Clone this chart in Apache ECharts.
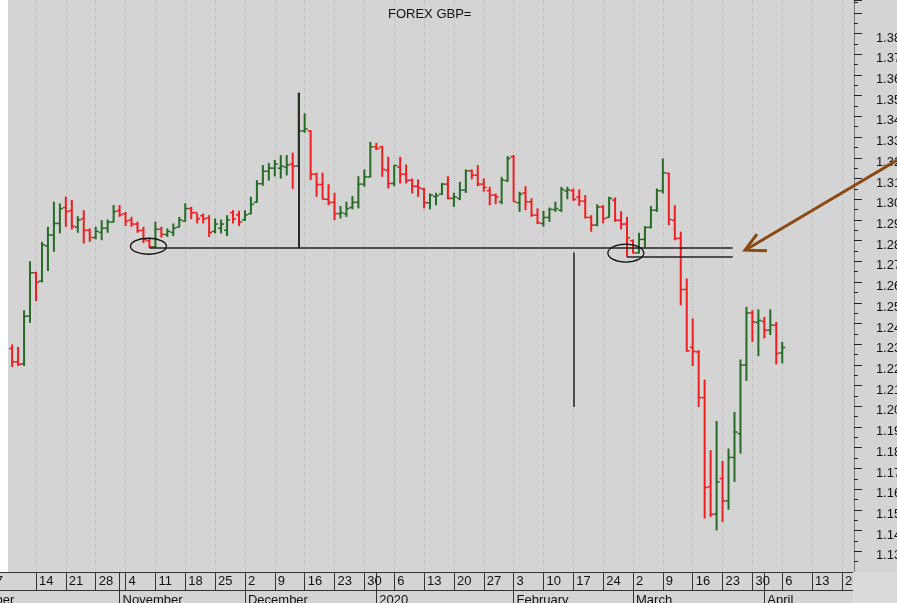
<!DOCTYPE html>
<html><head><meta charset="utf-8">
<script src="https://cdn.jsdelivr.net/npm/echarts@6/dist/echarts.min.js"></script>
<style>html,body{margin:0;padding:0;background:#d4d4d4}#c{width:897px;height:603px}</style>
</head><body><div id="c"></div>
<script>
// ---- categories: trading days (Mon-Fri) from 2019-10-07 to 2020-04-22 ----
const firstDay = '2019-10-07';
const dayCount = 143;
const days = [];
(function(){ let d = new Date(firstDay + 'T00:00:00Z');
  while (days.length < dayCount) { const w = d.getUTCDay(); if (w > 0 && w < 6) days.push(d.toISOString().slice(0,10)); d.setUTCDate(d.getUTCDate() + 1); } })();
const monthNames = ['2020','February','March','April','May','June','July','August','September','October','November','December'];
const title = 'FOREX GBP=';
// ---- daily OHLC, first value = 2019-10-08 (index 1) ----
const opens = [1.2279,1.2215,1.2205,1.2435,1.2645,1.2605,1.2775,1.2827,1.2883,1.2960,1.2945,1.2865,1.2905,1.2850,1.2815,1.2840,1.2860,1.2890,1.2945,1.2930,1.2900,1.2880,1.2850,1.2800,1.2770,1.2855,1.2830,1.2840,1.2865,1.2895,1.2955,1.2935,1.2920,1.2910,1.2845,1.2860,1.2850,1.2935,1.2925,1.2900,1.2930,1.2985,1.3075,1.3135,1.3150,1.3150,1.3155,1.3170,1.3160,1.3330,1.3330,1.3121,1.3071,1.3000,1.2985,1.2930,1.2930,1.2960,1.2985,1.3073,1.3108,1.3253,1.3253,1.3140,1.3076,1.3155,1.3121,1.3092,1.3063,1.3050,1.2983,1.3013,1.3025,1.3073,1.3004,1.3004,1.3044,1.3137,1.3116,1.3073,1.3041,1.3020,1.2988,1.3090,1.3206,1.2983,1.3031,1.2988,1.2923,1.2883,1.2912,1.2950,1.2947,1.3040,1.3041,1.3010,1.2991,1.2912,1.2875,1.2963,1.2912,1.2996,1.2899,1.2880,1.2800,1.2741,1.2806,1.2864,1.2947,1.3041,1.3125,1.2899,1.2811,1.2564,1.2285,1.2263,1.2042,1.1612,1.1479,1.1651,1.1543,1.1753,1.1868,1.2199,1.2451,1.2405,1.2410,1.2368,1.2392,1.2258];
const highs = [1.2299,1.2287,1.2464,1.2701,1.2650,1.2794,1.2867,1.2988,1.2980,1.3012,1.2996,1.2918,1.2947,1.2859,1.2867,1.2899,1.2902,1.2972,1.2972,1.2939,1.2915,1.2891,1.2867,1.2814,1.2891,1.2867,1.2859,1.2883,1.2915,1.2980,1.2963,1.2931,1.2931,1.2923,1.2907,1.2902,1.2923,1.2947,1.2944,1.2947,1.3012,1.3092,1.3165,1.3175,1.3190,1.3213,1.3213,1.3225,1.3514,1.3415,1.3334,1.3128,1.3128,1.3073,1.3031,1.2967,1.2988,1.3015,1.3111,1.3144,1.3277,1.3272,1.3258,1.3205,1.3165,1.3205,1.3168,1.3100,1.3096,1.3055,1.3028,1.3031,1.3079,1.3111,1.3031,1.3084,1.3144,1.3144,1.3165,1.3100,1.3060,1.3028,1.3108,1.3208,1.3213,1.3036,1.3063,1.3004,1.2956,1.2944,1.2960,1.2988,1.3060,1.3060,1.3052,1.3047,1.3020,1.2923,1.2976,1.2971,1.3012,1.3009,1.2942,1.2915,1.2806,1.2838,1.2870,1.2967,1.3052,1.3197,1.3128,1.2971,1.2843,1.2617,1.2424,1.2271,1.2129,1.1788,1.1929,1.1736,1.1796,1.1973,1.2226,1.2480,1.2464,1.2468,1.2432,1.2468,1.2408,1.2311];
const lows = [1.2190,1.2195,1.2195,1.2403,1.2509,1.2598,1.2653,1.2746,1.2835,1.2867,1.2854,1.2838,1.2786,1.2794,1.2806,1.2802,1.2838,1.2888,1.2915,1.2871,1.2867,1.2838,1.2789,1.2765,1.2765,1.2815,1.2818,1.2822,1.2864,1.2891,1.2904,1.2883,1.2883,1.2818,1.2835,1.2835,1.2822,1.2883,1.2871,1.2895,1.2927,1.2983,1.3065,1.3090,1.3110,1.3100,1.3115,1.3050,1.3155,1.3321,1.3092,1.3012,1.2999,1.2971,1.2899,1.2907,1.2915,1.2951,1.2956,1.3060,1.3105,1.3237,1.3108,1.3052,1.3063,1.3076,1.3076,1.3028,1.3012,1.2956,1.2951,1.2971,1.3020,1.2999,1.2963,1.2996,1.3031,1.3096,1.3063,1.3036,1.2971,1.2976,1.2976,1.3084,1.2988,1.2939,1.2947,1.2915,1.2880,1.2867,1.2891,1.2939,1.2939,1.3000,1.2992,1.2967,1.2907,1.2843,1.2870,1.2883,1.2912,1.2891,1.2854,1.2722,1.2738,1.2738,1.2767,1.2859,1.2939,1.3028,1.2875,1.2802,1.2488,1.2263,1.2194,1.1997,1.1458,1.1466,1.1401,1.1442,1.1501,1.1635,1.1772,1.2123,1.2311,1.2242,1.2328,1.2344,1.2203,1.2207];
const closes = [1.2215,1.2203,1.2435,1.2645,1.2600,1.2780,1.2827,1.2883,1.2955,1.2940,1.2870,1.2900,1.2850,1.2815,1.2845,1.2860,1.2890,1.2940,1.2925,1.2895,1.2880,1.2848,1.2805,1.2770,1.2855,1.2830,1.2845,1.2860,1.2900,1.2955,1.2935,1.2905,1.2905,1.2840,1.2880,1.2880,1.2900,1.2905,1.2890,1.2925,1.2975,1.3075,1.3135,1.3150,1.3170,1.3160,1.3165,1.3160,1.3330,1.3340,1.3121,1.3071,1.3000,1.2985,1.2931,1.2935,1.2955,1.2985,1.3073,1.3108,1.3253,1.3245,1.3144,1.3076,1.3163,1.3121,1.3092,1.3063,1.3055,1.2983,1.3020,1.3017,1.3073,1.3004,1.3011,1.3044,1.3137,1.3116,1.3073,1.3057,1.3020,1.3011,1.3092,1.3197,1.2988,1.3025,1.2988,1.2923,1.2886,1.2912,1.2951,1.2955,1.3047,1.3045,1.2999,1.2991,1.2912,1.2875,1.2963,1.2907,1.3004,1.2899,1.2880,1.2814,1.2741,1.2806,1.2864,1.2947,1.3041,1.3128,1.2902,1.2811,1.2564,1.2268,1.2265,1.2042,1.1608,1.1479,1.1635,1.1543,1.1753,1.1876,1.2199,1.2451,1.2408,1.2415,1.2368,1.2392,1.2255,1.2284];
const firstBarIndex = 1;
// ---- annotation values (data coordinates) ----
const supportLevel = 1.2765, lowerLevel = 1.2722;

const GREEN = '#256b25', RED = '#f01e1e';
const bars = opens.map((o, k) => [k + firstBarIndex, o, highs[k], lows[k], closes[k]]);
const isMonday = i => new Date(days[i] + 'T00:00:00Z').getUTCDay() === 1;
const isMonthStart = i => i > 0 && days[i].slice(5,7) !== days[i-1].slice(5,7);
const FONT = '"Liberation Sans", Arial, sans-serif';

const chart = echarts.init(document.getElementById('c'), null, {renderer:'canvas'});
const gridLeft = 6.15, pxPerDay = 5.97;
const gridRight = 897 - gridLeft - (dayCount - 1) * pxPerDay;

chart.setOption({
  animation: false,
  backgroundColor: '#d4d4d4',
  title: { text: title, left: 388, top: 8, padding: 0,
    textStyle: { fontSize: 13, fontWeight: 'normal', color: '#111', fontFamily: FONT } },
  grid: { left: gridLeft, right: gridRight, top: 0, bottom: 31, show: true, backgroundColor: '#d4d4d4', borderWidth: 0,
    containLabel: false, outerBoundsMode: 'none' },
  xAxis: [
    { type: 'category', data: days, boundaryGap: false, position: 'bottom',
      axisLine: { show: true, onZero: false, lineStyle: { color: '#333', width: 1 } },
      axisTick: { show: true, interval: (i) => i > 0 && isMonday(i), length: 18, lineStyle: { color: '#333' } },
      axisLabel: { interval: (i) => i > 0 && isMonday(i),
        formatter: (v) => String(+v.slice(8)), align: 'left', padding: [0,0,0,3], margin: 3,
        fontSize: 13, color: '#111', fontFamily: FONT },
      splitLine: { show: true, interval: (i) => isMonday(i), lineStyle: { type: 'dotted', color: '#bcbcbc', width: 1 } } },
    { type: 'category', data: days, boundaryGap: false, position: 'bottom',
      axisLine: { show: false, onZero: false },
      axisTick: { show: true, interval: (i) => isMonthStart(i), length: 31, lineStyle: { color: '#333' } },
      axisLabel: { interval: (i) => isMonthStart(i),
        formatter: (v) => monthNames[(+v.slice(5,7) - 1)], align: 'left', padding: [0,0,0,3], margin: 22,
        fontSize: 13, color: '#111', fontFamily: FONT },
      splitLine: { show: false } },
    { type: 'category', data: days, boundaryGap: false, position: 'bottom', offset: 18,
      axisLine: { show: true, onZero: false, lineStyle: { color: '#333', width: 1 } },
      axisTick: { show: false }, axisLabel: { show: false }, splitLine: { show: false } },
    { type: 'value', min: 0, max: dayCount - 1, show: false, splitLine: { show: false } }
  ],
  yAxis: { type: 'value', position: 'right', min: 1.12, max: 1.3962, interval: 0.01,
    axisLine: { show: true, onZero: false, lineStyle: { color: '#777' } },
    axisTick: { show: true, length: 8, lineStyle: { color: '#222' } },
    minorTick: { show: true, splitNumber: 2, length: 4, lineStyle: { color: '#222' } },
    axisLabel: { formatter: (v) => (v > 1.125 && v < 1.385) ? v.toFixed(2) : '', margin: 22,
      fontSize: 13, color: '#111', fontFamily: FONT, verticalAlign: 'top', lineHeight: 9 },
    splitLine: { show: false } },
  series: [{
    type: 'custom', xAxisIndex: 3, yAxisIndex: 0, data: bars, clip: false,
    encode: { x: 0, y: [1,2,3,4] },
    renderItem: function (params, api) {
      const i = api.value(0), o = api.value(1), h = api.value(2), l = api.value(3), c = api.value(4);
      const ph = api.coord([i, h]), pl = api.coord([i, l]), po = api.coord([i, o]), pc = api.coord([i, c]);
      const col = c >= o ? GREEN : RED, x = ph[0];
      return { type: 'group', children: [
        { type: 'line', shape: { x1: x, y1: ph[1], x2: x, y2: pl[1] }, style: { stroke: col, lineWidth: 2 } },
        { type: 'line', shape: { x1: x - 3, y1: po[1], x2: x, y2: po[1] }, style: { stroke: col, lineWidth: 1.5 } },
        { type: 'line', shape: { x1: x, y1: pc[1], x2: x + 3, y2: pc[1] }, style: { stroke: col, lineWidth: 1.5 } }
      ] };
    },
    markLine: { silent: true, symbol: 'none', label: { show: false }, animation: false,
      lineStyle: { color: '#222', width: 1.5, type: 'solid' },
      data: [
        [{ coord: [24, supportLevel] }, { coord: [121.7, supportLevel] }],
        [{ coord: [104, lowerLevel] }, { coord: [121.7, lowerLevel] }],
        [{ coord: [49, 1.3514], lineStyle: { width: 2, color: '#2a2a2a' } }, { coord: [49, supportLevel] }],
        [{ coord: [95, 1.2743] }, { coord: [95, 1.1997] }]
      ] }
  }]
});

function px(x, y) { return chart.convertToPixel({ seriesIndex: 0 }, [x, y]); }
const e1 = px(23.84, 1.2773), e2 = px(103.8, 1.2740);
const tip = px(123.76, 1.2754), tail = px(150.6, 1.3212);
const p0 = px(0, 1.2), pEnd = px(dayCount - 1, 1.2);
chart.setOption({ graphic: [
  { type: 'rect', left: 0, top: 0, shape: { width: 8, height: 572 }, style: { fill: '#ffffff' }, z: 50, silent: true },
  { type: 'rect', shape: { x: pEnd[0] - 1, y: 572, width: 60, height: 31 }, style: { fill: '#dadada' }, z: 50, silent: true },
  { type: 'line', shape: { x1: 0, y1: 572.5, x2: gridLeft + 1, y2: 572.5 }, style: { stroke: '#333', lineWidth: 1 }, z: 50 },
  { type: 'line', shape: { x1: 0, y1: 590.5, x2: gridLeft + 1, y2: 590.5 }, style: { stroke: '#333', lineWidth: 1 }, z: 50 },
  { type: 'text', style: { text: '7', x: p0[0] - 10.5, y: 575, fill: '#111', font: '13px ' + FONT, textVerticalAlign: 'top' }, z: 50 },
  { type: 'text', style: { text: 'October', x: p0[0] - 38, y: 594, fill: '#111', font: '13px ' + FONT, textVerticalAlign: 'top' }, z: 50 },
  { type: 'ellipse', shape: { cx: e1[0], cy: e1[1], rx: 18, ry: 8 }, style: { fill: 'none', stroke: '#111', lineWidth: 1.3 }, z: 60 },
  { type: 'ellipse', shape: { cx: e2[0], cy: e2[1], rx: 18, ry: 9 }, style: { fill: 'none', stroke: '#111', lineWidth: 1.3 }, z: 60 },
  { type: 'polyline', shape: { points: [tail, tip] }, style: { stroke: '#8b4a12', lineWidth: 3, fill: null }, z: 60 },
  { type: 'polyline', shape: { points: [[tip[0] + 12, tip[1] - 16], tip, [tip[0] + 22, tip[1] + 0.5]] }, style: { stroke: '#8b4a12', lineWidth: 3, fill: null, lineJoin: 'miter' }, z: 60 }
] });
</script></body></html>
